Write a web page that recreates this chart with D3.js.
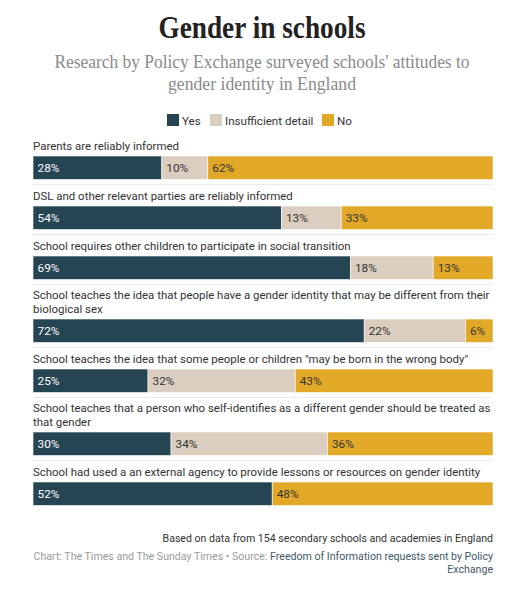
<!DOCTYPE html>
<html>
<head>
<meta charset="utf-8">
<script src="https://cdn.jsdelivr.net/npm/d3@7"></script>
<style>
  body { margin: 0; background: #fff; }
  svg { display: block; }
  .title { font-family: "Liberation Serif", serif; font-weight: bold; font-size: 31px; fill: #222; }
  .subtitle { font-family: "Liberation Serif", serif; font-size: 19.5px; fill: #8a8a8a; }
  .legend text, .row-label, .seg-label, .note, .source { font-family: Roboto, sans-serif; }
</style>
</head>
<body>
<div id="chart"></div>
<script>
var categories = [
  "Parents are reliably informed",
  "DSL and other relevant parties are reliably informed",
  "School requires other children to participate in social transition",
  "School teaches the idea that people have a gender identity that may be different from their biological sex",
  "School teaches the idea that some people or children \"may be born in the wrong body\"",
  "School teaches that a person who self-identifies as a different gender should be treated as that gender",
  "School had used a an external agency to provide lessons or resources on gender identity"
];
var seriesNames = ["Yes", "Insufficient detail", "No"];
var yesValues = [28, 54, 69, 72, 25, 30, 52];
var insufficientValues = [10, 13, 18, 22, 32, 34, 0];
var noValues = [62, 33, 13, 6, 43, 36, 48];

var width = 524,
    height = 600,
    margin = {left: 33, right: 31},
    innerWidth = width - margin.left - margin.right,
    barHeight = 23.5,
    lineHeight = 14.5,
    labelSize = "11.45px";

var colors = d3.scaleOrdinal()
    .domain(seriesNames)
    .range(["#264553", "#dbcdbf", "#e2a928"]);

var rows = categories.map(function (c, i) {
  return {label: c, values: [yesValues[i], insufficientValues[i], noValues[i]]};
});

var xScale = d3.scaleLinear().domain([0, 100]).range([margin.left, margin.left + innerWidth]);

var svg = d3.select("#chart").append("svg")
    .attr("width", width)
    .attr("height", height);

svg.append("text")
    .attr("class", "title")
    .attr("x", width / 2)
    .attr("y", 38)
    .attr("text-anchor", "middle")
    .attr("textLength", 207)
    .attr("lengthAdjust", "spacingAndGlyphs")
    .text("Gender in schools");

var subLines = ["Research by Policy Exchange surveyed schools' attitudes to", "gender identity in England"];
var subLengths = [415, 188];
svg.selectAll(".subtitle")
    .data(subLines)
    .enter().append("text")
    .attr("class", "subtitle")
    .attr("text-anchor", "middle")
    .attr("x", width / 2)
    .attr("y", function (d, i) { return 68 + i * 22; })
    .attr("textLength", function (d, i) { return subLengths[i]; })
    .attr("lengthAdjust", "spacingAndGlyphs")
    .text(function (d) { return d; });

// Legend
var legend = svg.append("g").attr("class", "legend");
var legendX = [167, 210, 322];
var lg = legend.selectAll("g")
    .data(seriesNames)
    .enter().append("g")
    .attr("transform", function (d, i) { return "translate(" + legendX[i] + ",114)"; });
lg.append("rect")
    .attr("width", 12)
    .attr("height", 12)
    .attr("fill", function (d) { return colors(d); });
lg.append("text")
    .attr("x", 15)
    .attr("y", 10.5)
    .attr("font-size", "11.6px")
    .attr("fill", "#333")
    .text(function (d) { return d; });

// Wrap labels into lines by measuring
var measure = svg.append("text")
    .attr("class", "row-label")
    .attr("font-size", labelSize)
    .attr("visibility", "hidden");

function wrap(text, maxWidth) {
  var words = text.split(" "), lines = [], line = [];
  words.forEach(function (w) {
    line.push(w);
    measure.text(line.join(" "));
    if (measure.node().getComputedTextLength() > maxWidth && line.length > 1) {
      line.pop();
      lines.push(line.join(" "));
      line = [w];
    }
  });
  lines.push(line.join(" "));
  return lines;
}

var barTop = 156;
rows.forEach(function (r, i) {
  r.lines = wrap(r.label, innerWidth + 5);
  if (i > 0) barTop += 50 + 13 * (r.lines.length - 1);
  r.top = barTop;
});
measure.remove();

var rowGroup = svg.selectAll(".row")
    .data(rows)
    .enter().append("g")
    .attr("class", "row");

rowGroup.append("text")
    .attr("class", "row-label")
    .attr("font-size", labelSize)
    .attr("fill", "#333")
    .each(function (r) {
      d3.select(this).selectAll("tspan")
        .data(r.lines)
        .enter().append("tspan")
        .attr("x", margin.left)
        .attr("y", function (d, j) { return r.top - 6 - (r.lines.length - 1 - j) * lineHeight; })
        .text(function (d) { return d; });
    });

var segments = rowGroup.selectAll(".seg")
    .data(function (r) {
      var acc = 0;
      return r.values.map(function (v, k) {
        var s = {name: seriesNames[k], value: v, start: acc, top: r.top};
        acc += v;
        return s;
      }).filter(function (s) { return s.value > 0; });
    })
    .enter().append("g")
    .attr("class", "seg");

segments.append("rect")
    .attr("x", function (s) { return xScale(s.start); })
    .attr("y", function (s) { return s.top; })
    .attr("width", function (s) { return xScale(s.start + s.value) - xScale(s.start); })
    .attr("height", barHeight)
    .attr("fill", function (s) { return colors(s.name); })
    .attr("stroke", "#fff")
    .attr("stroke-width", 0.6);

segments.append("text")
    .attr("class", "seg-label")
    .attr("x", function (s) { return xScale(s.start) + 4.5; })
    .attr("y", function (s) { return s.top + barHeight / 2 + 4.2; })
    .attr("font-size", "11.8px")
    .attr("fill", function (s) { return s.name === "Yes" ? "#fff" : "#333"; })
    .text(function (s) { return s.value + "%"; });

// Dotted separators between rows
rowGroup.filter(function (r, i) { return i < rows.length - 1; })
    .append("line")
    .attr("x1", margin.left)
    .attr("x2", margin.left + innerWidth)
    .attr("y1", function (r) { return r.top + barHeight + 5; })
    .attr("y2", function (r) { return r.top + barHeight + 5; })
    .attr("stroke", "#d8d8d8")
    .attr("stroke-width", 1)
    .attr("stroke-dasharray", "1,1");

// Footer
svg.append("text")
    .attr("class", "note")
    .attr("x", margin.left + innerWidth)
    .attr("y", 542)
    .attr("text-anchor", "end")
    .attr("font-size", "10.6px")
    .attr("fill", "#333")
    .text("Based on data from 154 secondary schools and academies in England");

var source = svg.append("text")
    .attr("class", "source")
    .attr("text-anchor", "end")
    .attr("font-size", "10.6px");
var src1 = source.append("tspan")
    .attr("x", margin.left + innerWidth)
    .attr("y", 560);
src1.append("tspan").attr("fill", "#9a9a9a").text("Chart: The Times and The Sunday Times \u2022 Source: ");
src1.append("tspan").attr("fill", "#3f5868").text("Freedom of Information requests sent by Policy");
source.append("tspan")
    .attr("x", margin.left + innerWidth)
    .attr("y", 573)
    .attr("fill", "#3f5868")
    .text("Exchange");
</script>
</body>
</html>
